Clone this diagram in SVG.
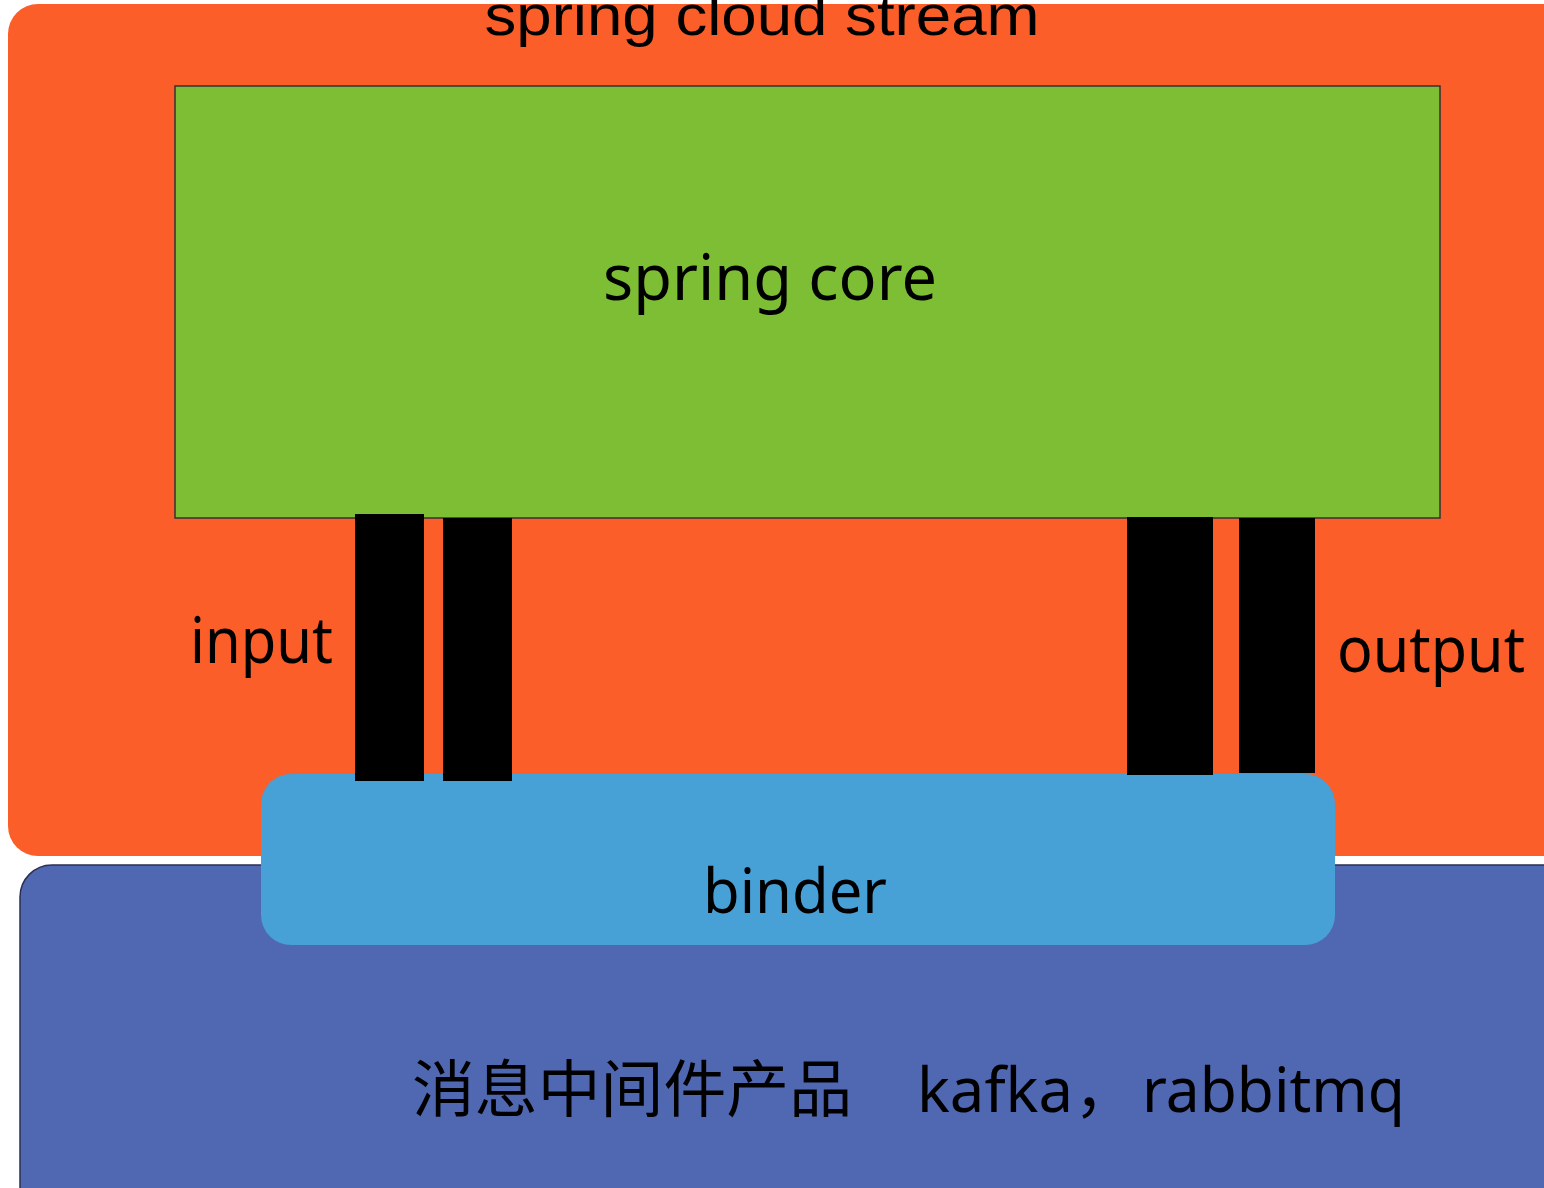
<svg xmlns="http://www.w3.org/2000/svg" width="1544" height="1188" viewBox="0 0 1544 1188">
<style>
.t{font-family:"Noto Sans","Noto Sans CJK SC",sans-serif;fill:#000}
.bar{fill:#000}
</style>
<rect width="1544" height="1188" fill="#fff"/>
<g id="stream">
<rect x="8" y="4" width="1570" height="852" rx="30" fill="#FB5E28"/>
<text x="762" y="35" text-anchor="middle" style="font-family:'Liberation Sans',sans-serif" font-size="58" textLength="555" lengthAdjust="spacingAndGlyphs">spring cloud stream</text>
</g>
<g id="mq">
<rect x="20" y="865" width="1560" height="360" rx="32" fill="#5068B2" stroke="#2a2f55" stroke-width="1.5"/>
<text class="t" y="1112" font-size="62"><tspan x="412" textLength="440" lengthAdjust="spacingAndGlyphs">消息中间件产品</tspan><tspan x="917" textLength="156" lengthAdjust="spacingAndGlyphs">kafka</tspan><tspan x="1074">，</tspan><tspan x="1142" textLength="263" lengthAdjust="spacingAndGlyphs">rabbitmq</tspan></text>
</g>
<g id="core">
<rect x="175" y="86" width="1265" height="432" fill="#7DBE35" stroke="#333" stroke-width="1.5"/>
<text class="t" x="603" y="300" font-size="64" textLength="334" lengthAdjust="spacingAndGlyphs">spring core</text>
</g>
<g id="binder">
<rect x="261" y="774" width="1074" height="171" rx="30" fill="#47A0D6"/>
<text class="t" x="703" y="913" font-size="62" textLength="184" lengthAdjust="spacingAndGlyphs">binder</text>
</g>
<g id="connectors">
<rect class="bar" x="355" y="514" width="69" height="267"/>
<rect class="bar" x="443" y="518" width="69" height="263"/>
<rect class="bar" x="1127" y="517" width="86" height="258"/>
<rect class="bar" x="1239" y="518" width="76" height="255"/>
</g>
<g id="labels">
<text class="t" x="190" y="663" font-size="64" textLength="143" lengthAdjust="spacingAndGlyphs">input</text>
<text class="t" x="1337" y="672" font-size="64" textLength="188" lengthAdjust="spacingAndGlyphs">output</text>
</g>
</svg>
